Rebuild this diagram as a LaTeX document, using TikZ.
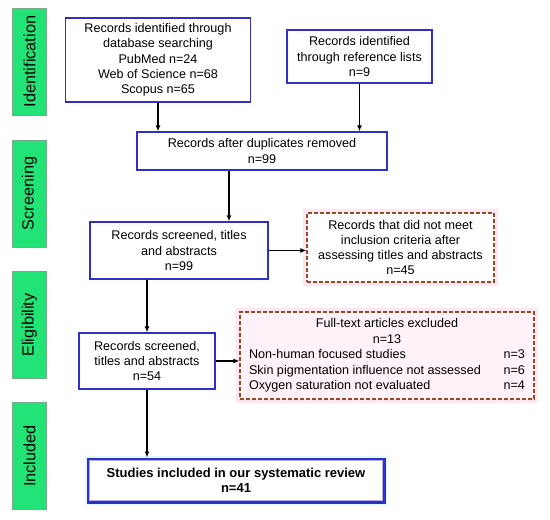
\documentclass[tikz,border=0pt]{standalone}
\usepackage{fontspec}
\setmainfont{Liberation Sans}
\usetikzlibrary{arrows.meta,calc}
\definecolor{boxblue}{RGB}{48,48,200}
\definecolor{phase}{RGB}{34,228,118}
\definecolor{phaseedge}{RGB}{120,170,140}
\definecolor{dashbrown}{RGB}{150,75,35}
\definecolor{halopink}{RGB}{255,230,242}
\definecolor{halocyan}{RGB}{225,250,255}
\begin{document}
\begin{tikzpicture}[x=1pt,y=-1pt,
  every node/.style={font=\fontsize{12.6}{15.3}\selectfont, inner sep=0pt, align=center},
  bluebox/.style={draw=boxblue, line width=1.3pt, fill=white, minimum width=#1},
  dashbox/.style={draw=dashbrown, line width=1.3pt, dashed, dash pattern=on 4pt off 2pt},
  phasebox/.style={fill=phase, draw=phaseedge, line width=0.8pt, minimum width=107, minimum height=34, rotate=90, font=\fontsize{16.3}{19}\selectfont},
  arr/.style={-{Latex[length=6pt,width=5pt]}, line width=1.3pt, black}]
\useasboundingbox (0,0) rectangle (550,520);
\fill[white] (0,0) rectangle (550,520);
% phases
\node[phasebox] (p1) at (29.5,61.5) {Identification};
\node[phasebox] (p2) at (29.5,193.5) {Screening};
\node[phasebox] (p3) at (29.5,325) {Eligibility};
\node[phasebox] (p4) at (29.5,456) {Included};
% boxes
\node[bluebox=185, minimum height=84] (b1) at (158,60) {Records identified through\\database searching\\PubMed n=24\\Web of Science n=68\\Scopus n=65};
\node[bluebox=145, minimum height=53] (b2) at (359.5,56.5) {Records identified\\through reference lists\\n=9};
\node[bluebox=250, minimum height=38] (b3) at (262,151) {Records after duplicates removed\\n=99};
\node[bluebox=178, minimum height=57] (b4) at (179,250.5) {Records screened, titles\\and abstracts\\n=99};
\node[bluebox=136, minimum height=56] (b5) at (147,361) {Records screened,\\titles and abstracts\\n=54};
% dashed boxes
\fill[halopink] (303,209) rectangle (498,286);
\node[dashbox, fill=white, minimum width=187, minimum height=69] (d1) at (400.5,247.5) {Records that did not meet\\inclusion criteria after\\assessing titles and abstracts\\n=45};
\fill[halopink] (236,308) rectangle (538,403);
\node[dashbox, fill=halopink!50, minimum width=294, minimum height=87] (d2) at (387,355.5) {%
  \renewcommand{\arraystretch}{1.02}%
  \begin{tabular*}{276pt}{@{}l@{\extracolsep{\fill}}r@{}}
  \multicolumn{2}{c}{Full-text articles excluded}\\
  \multicolumn{2}{c}{n=13}\\
  Non-human focused studies & n=3\\
  Skin pigmentation influence not assessed & n=6\\
  Oxygen saturation not evaluated & n=4
  \end{tabular*}};
% included
\fill[halocyan] (85,456) rectangle (387,505);
\node[draw=boxblue, line width=3pt, fill=white, minimum width=296, minimum height=43, font=\bfseries\fontsize{13}{15.5}\selectfont] (b6) at (236,480.5) {Studies included in our systematic review\\n=41};
\draw[boxblue!40, line width=0.8pt] ([shift={(2.8,2.8)}]b6.north west) rectangle ([shift={(-2.8,-2.8)}]b6.south east);
% arrows
\draw[arr] (b1.south) -- (b1.south |- b3.north);
\draw[arr] (b2.south) -- (b2.south |- b3.north);
\draw[arr] ([xshift=-33]b3.south) -- ([xshift=-33]b3.south |- b4.north);
\draw[arr] (b4.east) -- (b4.east -| d1.west);
\draw[arr] (b5.north |- b4.south) -- (b5.north);
\draw[arr] (b5.east) -- (b5.east -| d2.west);
\draw[arr] (b5.south) -- (b5.south |- b6.north);
\end{tikzpicture}
\end{document}
